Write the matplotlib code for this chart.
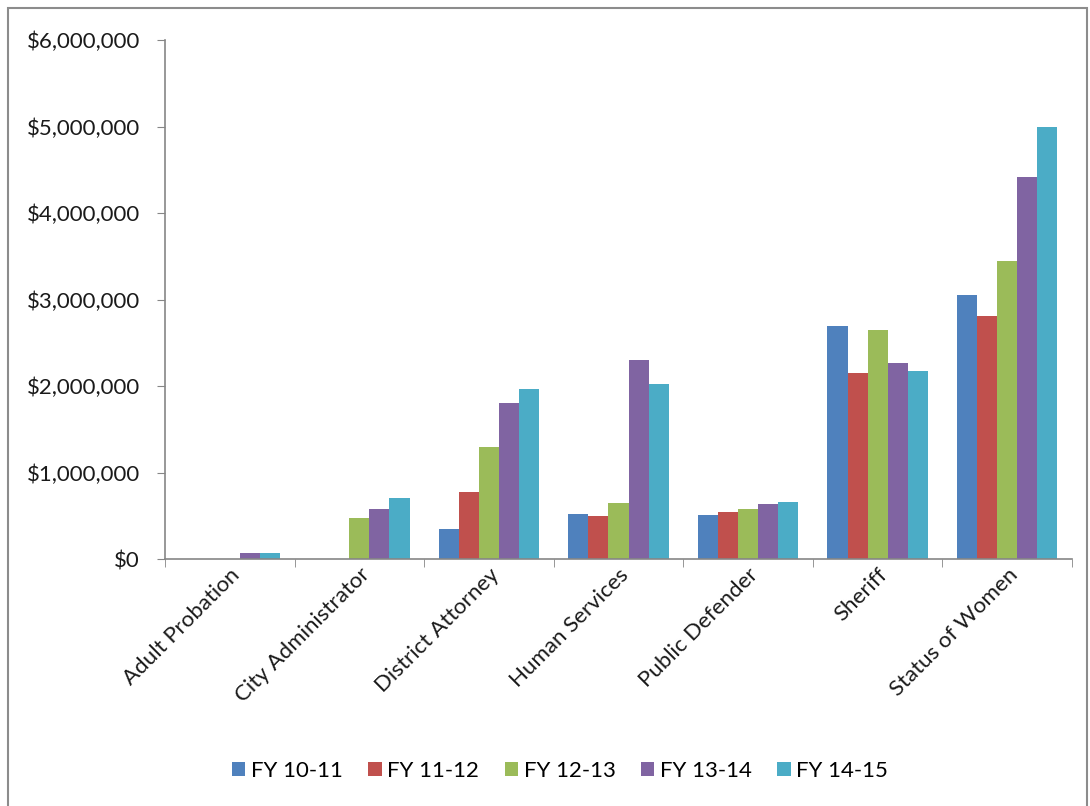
import numpy as np
import matplotlib
matplotlib.use("Agg")
import matplotlib.pyplot as plt
from matplotlib.patches import Rectangle
from matplotlib.ticker import FuncFormatter

plt.rcParams['font.family'] = ['Lato', 'DejaVu Sans']

departments = ['Adult Probation', 'City Administrator', 'District Attorney',
               'Human Services', 'Public Defender', 'Sheriff', 'Status of Women']
years = ['FY 10-11', 'FY 11-12', 'FY 12-13', 'FY 13-14', 'FY 14-15']

fy_10_11 = [0, 0, 342000, 515000, 512000, 2690000, 3050000]
fy_11_12 = [0, 0, 770000, 496000, 542000, 2155000, 2810000]
fy_12_13 = [0, 478000, 1300000, 652000, 581000, 2650000, 3440000]
fy_13_14 = [75000, 575000, 1805000, 2305000, 640000, 2265000, 4415000]
fy_14_15 = [75000, 702000, 1970000, 2027000, 655000, 2170000, 4990000]

colors = ['#4F81BD', '#C0504D', '#9BBB59', '#8064A2', '#4BACC6']
series = [fy_10_11, fy_11_12, fy_12_13, fy_13_14, fy_14_15]

W, H = 1090, 806
fig = plt.figure(figsize=(W / 100, H / 100), dpi=100)
ax = fig.add_axes([165 / W, 1 - 559 / H, (1072 - 165) / W, (559 - 40) / H])

x = np.arange(len(departments))
bw = 0.155
for i, (vals, c, lab) in enumerate(zip(series, colors, years)):
    ax.bar(x + (i - 2) * bw, vals, width=bw, color=c, label=lab, linewidth=0)

ax.set_xlim(-0.5, len(departments) - 0.5)
ax.set_ylim(0, 6000000)
ax.set_yticks(np.arange(0, 6000001, 1000000))
ax.yaxis.set_major_formatter(FuncFormatter(lambda v, p: '${:,.0f}'.format(v)))

axis_gray = '#868686'
for s in ['top', 'right']:
    ax.spines[s].set_visible(False)
for s in ['left', 'bottom']:
    ax.spines[s].set_color(axis_gray)
    ax.spines[s].set_linewidth(1.2)

ax.tick_params(axis='y', length=6, color=axis_gray, labelsize=16, pad=12,
               labelcolor='#1a1a1a')
ax.set_xticks(x)
ax.set_xticklabels(departments, rotation=45, ha='right', va='top',
                   rotation_mode='anchor', fontsize=16, color='#1a1a1a')
ax.tick_params(axis='x', length=0, pad=4)
ax.set_xticks(np.arange(-0.5, len(departments), 1), minor=True)
ax.tick_params(axis='x', which='minor', length=6, color=axis_gray)

ax.legend(loc='center', bbox_to_anchor=(560 / W, 1 - 771 / H), bbox_transform=fig.transFigure,
          ncol=5, frameon=False, fontsize=16, handlelength=0.6, handleheight=0.6,
          handletextpad=0.25, columnspacing=1.15)

# chart area border
fig.patches.append(Rectangle((8 / W, -0.01), (1087 - 8) / W, 1.01 - 8 / H,
                             transform=fig.transFigure, fill=False,
                             edgecolor='#8c8c8c', linewidth=1.5))

fig.savefig('out.png', dpi=100)
